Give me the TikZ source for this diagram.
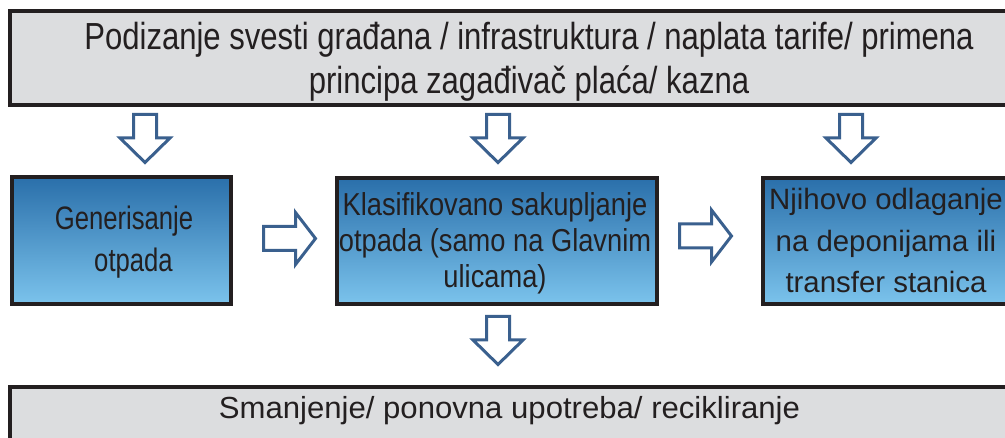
\documentclass[tikz,border=0pt]{standalone}
\usepackage{fontspec}
\setmainfont{Liberation Sans}
\newfontfamily\topfont[FakeStretch=0.824]{Liberation Sans}
\newfontfamily\genfont[FakeStretch=0.79]{Liberation Sans}
\newfontfamily\midfont[FakeStretch=0.86]{Liberation Sans}
\newfontfamily\botfont[FakeStretch=1.02]{Liberation Sans}
\definecolor{boxgray}{RGB}{220,221,223}
\definecolor{ink}{RGB}{35,31,32}
\definecolor{bluetop}{RGB}{42,111,170}
\definecolor{bluebot}{RGB}{123,195,236}
\definecolor{arrowblue}{RGB}{58,96,142}
\tikzset{
  graybox/.style={draw=ink, line width=4pt, fill=boxgray, rectangle, inner sep=0pt},
  bluebox/.style={draw=ink, line width=4pt, top color=bluetop, bottom color=bluebot, rectangle, inner sep=0pt},
  boxtext/.style={text=ink, align=center, inner sep=0pt, anchor=base},
  barrow/.style={draw=arrowblue, line width=3pt, fill=white, line join=miter},
  pics/downarrow/.style={code={
    \draw[barrow] (-11.5,0) -- (11.5,0) -- (11.5,-23.5) -- (25,-23.5) -- (0,-48) -- (-25,-23.5) -- (-11.5,-23.5) -- cycle;}},
  pics/rightarrow/.style={code={
    \draw[barrow] (0,12) -- (32,12) -- (32,26) -- (52,0) -- (32,-26) -- (32,-12) -- (0,-12) -- cycle;}}
}
\begin{document}
\begin{tikzpicture}[x=1pt,y=1pt]
\useasboundingbox (0,0) rectangle (1005,-438);
\clip (0,0) rectangle (1005,-438);
% boxes
\node[graybox, minimum width=1040pt, minimum height=94pt] (top) at (530,-58) {};
\node[bluebox, minimum width=219pt, minimum height=127pt] (gen) at (121.5,-240.5) {};
\node[bluebox, minimum width=320pt, minimum height=126pt] (sak) at (497,-241) {};
\node[bluebox, minimum width=257pt, minimum height=126pt] (odl) at (891.5,-241) {};
\node[graybox, minimum width=1040pt, minimum height=63pt] (bot) at (530,-418.5) {};
% texts (base anchor = baseline of the last line)
\node[boxtext, font=\topfont\fontsize{37.7}{44}\selectfont] (toptext) at (529,-94)
  {Podizanje svesti građana / infrastruktura / naplata tarife/ primena\\principa zagađivač plaća/ kazna};
\node[boxtext, font=\genfont\fontsize{32.5}{42}\selectfont] (gentext) at (124,-272)
  {Generisanje\\\hspace*{19pt}otpada};
\node[boxtext, font=\midfont\fontsize{31.7}{36}\selectfont] (saktext) at (495,-288)
  {Klasifikovano sakupljanje\\otpada (samo na Glavnim\\ulicama)};
\node[boxtext, font=\fontsize{29.4}{41.5}\selectfont] (odltext) at (886,-293)
  {Njihovo odlaganje\\na deponijama ili\\transfer stanica};
\node[boxtext, font=\botfont\fontsize{30.5}{36}\selectfont] (bottext) at (509.5,-419)
  {Smanjenje/ ponovna upotreba/ recikliranje};
% block arrows
\pic at (145,-114.5) {downarrow};
\pic at (498,-114.5) {downarrow};
\pic at (851,-114.5) {downarrow};
\pic at (498,-316.5) {downarrow};
\pic at (263.5,-238.5) {rightarrow};
\pic at (679.5,-236) {rightarrow};
\end{tikzpicture}
\end{document}
